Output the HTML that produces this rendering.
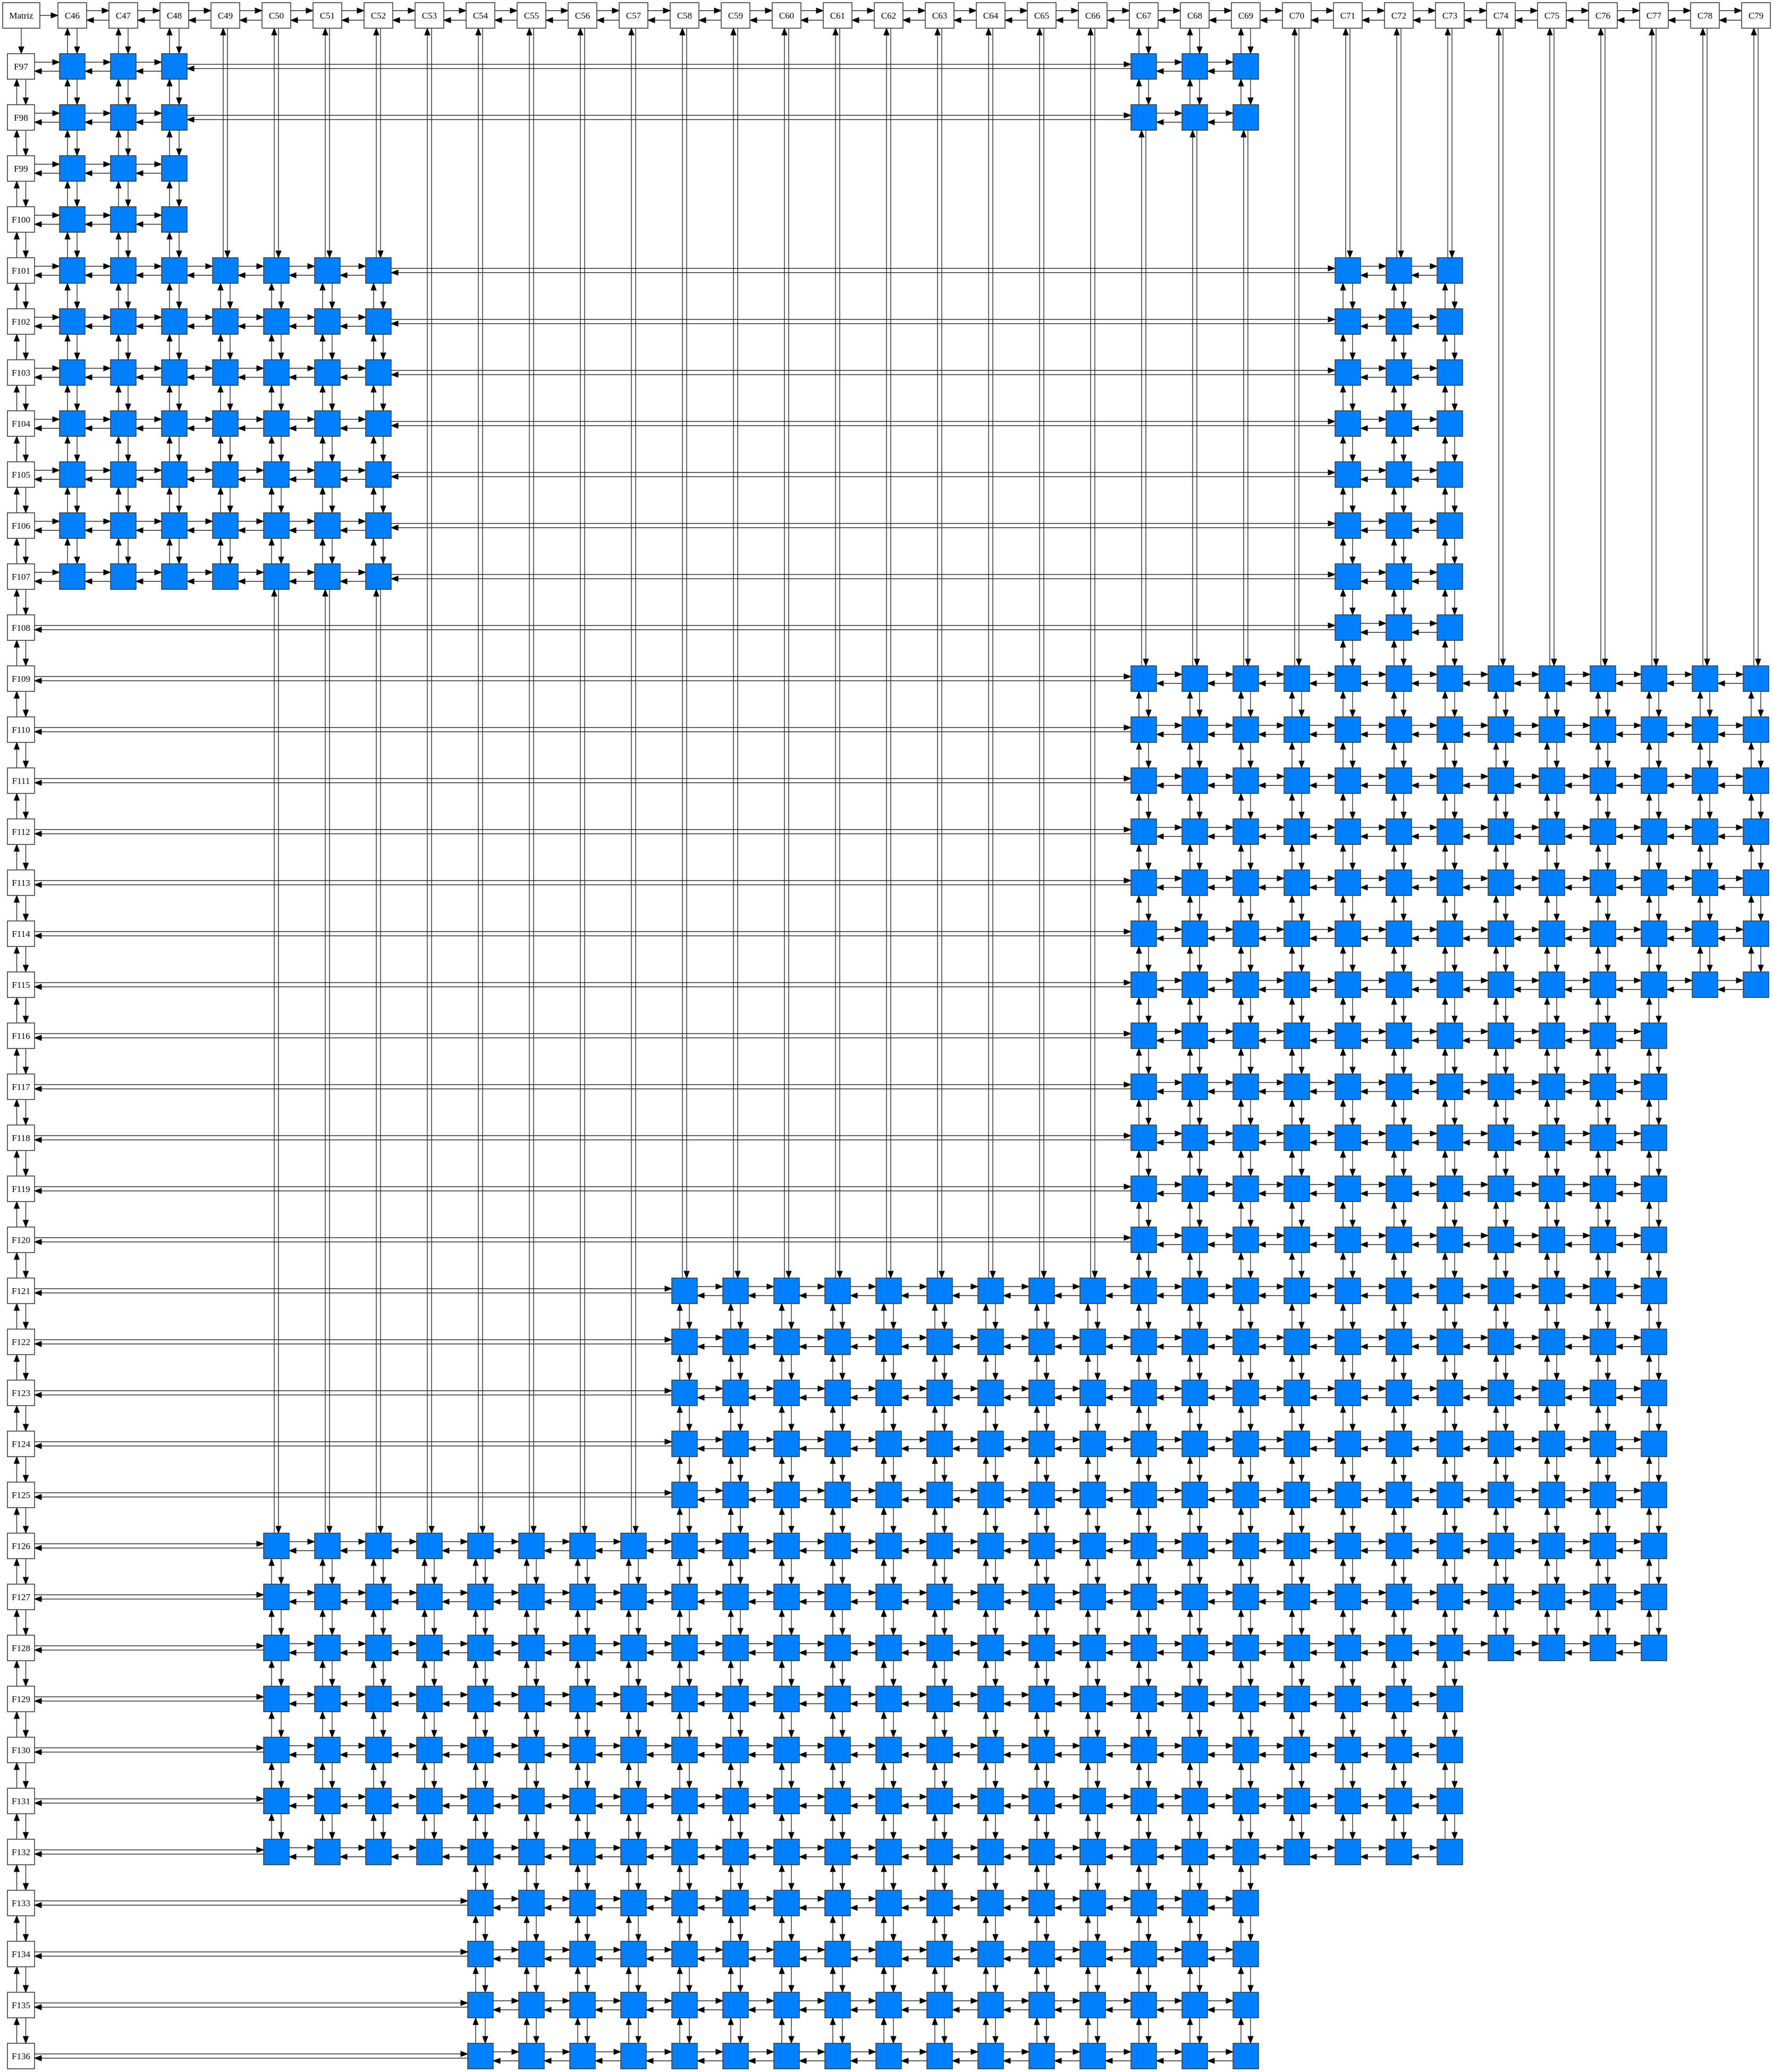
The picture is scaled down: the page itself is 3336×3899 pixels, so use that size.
<!DOCTYPE html>
<html><head><meta charset="utf-8">
<style>
html,body{margin:0;padding:0;background:#fff;}
svg{display:block;}
text{font-family:"Liberation Serif",serif;font-size:17px;fill:#000;}
</style></head>
<body>
<svg id="g" width="3336" height="3899" viewBox="0 0 3336 3899" xmlns="http://www.w3.org/2000/svg"></svg>
<script>
const colLabels = ["C46","C47","C48","C49","C50","C51","C52","C53","C54","C55","C56","C57","C58","C59","C60","C61","C62","C63","C64","C65","C66","C67","C68","C69","C70","C71","C72","C73","C74","C75","C76","C77","C78","C79"];
const rowLabels = ["F97","F98","F99","F100","F101","F102","F103","F104","F105","F106","F107","F108","F109","F110","F111","F112","F113","F114","F115","F116","F117","F118","F119","F120","F121","F122","F123","F124","F125","F126","F127","F128","F129","F130","F131","F132","F133","F134","F135","F136"];
// per-row filled column ranges [firstColIndex, lastColIndex]
const rowRanges = [
 [[0,2],[21,23]],[[0,2],[21,23]],[[0,2]],[[0,2]],
 [[0,6],[25,27]],[[0,6],[25,27]],[[0,6],[25,27]],[[0,6],[25,27]],[[0,6],[25,27]],[[0,6],[25,27]],[[0,6],[25,27]],
 [[25,27]],
 [[21,33]],[[21,33]],[[21,33]],[[21,33]],[[21,33]],[[21,33]],[[21,33]],
 [[21,31]],[[21,31]],[[21,31]],[[21,31]],[[21,31]],
 [[12,31]],[[12,31]],[[12,31]],[[12,31]],[[12,31]],
 [[4,31]],[[4,31]],[[4,31]],
 [[4,27]],[[4,27]],[[4,27]],[[4,27]],
 [[8,23]],[[8,23]],[[8,23]],[[8,23]]
];

const svg = document.getElementById('g');
const NS = 'http://www.w3.org/2000/svg';
const colX = i => 136 + i*96;
const rowY = j => 125 + j*96;
const HEAD_Y = 29;

function mk(tag, attrs){ const e=document.createElementNS(NS,tag); for(const k in attrs) e.setAttribute(k,attrs[k]); svg.appendChild(e); return e; }

function arrow(x1,y1,x2,y2,name){
  const dx=x2-x1, dy=y2-y1, L=Math.hypot(dx,dy), ux=dx/L, uy=dy/L;
  const bx=x2-ux*13, by=y2-uy*13;
  const l=mk('line',{x1:x1,y1:y1,x2:bx,y2:by,stroke:'#2b2b2b','stroke-width':1.4});
  
  
  const p=mk('polygon',{points:`${x2},${y2} ${bx-uy*5},${by+ux*5} ${bx+uy*5},${by-ux*5}`,fill:'#000',stroke:'#000','stroke-width':1});
  
  
}

function box(cx,cy,w,h,fill,label,name){
  const r=mk('rect',{x:cx-w/2,y:cy-h/2,width:w,height:h,fill:fill,stroke:'#333','stroke-width':1.5});
  
  
  if(label){
    const t=mk('text',{x:cx,y:cy+6,'text-anchor':'middle'});
    t.textContent=label;
    
    
  }
}

// cell membership
const filled = rowLabels.map((_,j)=>{ const s=new Set(); rowRanges[j].forEach(([a,b])=>{for(let i=a;i<=b;i++) s.add(i);}); return s; });

// ---- edges ----
// header
arrow(75,HEAD_Y,109,HEAD_Y,'edge-matriz-c46');
arrow(40,53,40,101,'edge-matriz-f97');
for(let i=0;i<colLabels.length-1;i++){
  const a=colX(i)+27, b=colX(i+1)-27;
  arrow(a,HEAD_Y-9,b,HEAD_Y-9,'edge-col-right');
  arrow(b,HEAD_Y+9,a,HEAD_Y+9,'edge-col-left');
}
for(let j=0;j<rowLabels.length-1;j++){
  const a=rowY(j)+24, b=rowY(j+1)-24;
  arrow(48.5,a,48.5,b,'edge-row-down');
  arrow(31.5,b,31.5,a,'edge-row-up');
}
// row links
rowLabels.forEach((lab,j)=>{
  const cols=[...filled[j]].sort((a,b)=>a-b);
  const y=rowY(j);
  let prevRight=65, prevIdx=-1;
  cols.forEach(i=>{
    const left=colX(i)-24;
    const long = (prevIdx<0 ? i>0 : i-prevIdx>1);
    const o1 = long?4:8, o2 = long?4:9;
    arrow(prevRight,y-o1,left,y-o1,'edge-h-right');
    arrow(left,y+o2,prevRight,y+o2,'edge-h-left');
    prevRight=colX(i)+24; prevIdx=i;
  });
});
// column links
colLabels.forEach((lab,i)=>{
  const x=colX(i);
  let prevBottom=53, prevRow=-1;
  rowLabels.forEach((_,j)=>{
    if(!filled[j].has(i)) return;
    const top=rowY(j)-24;
    const long = (prevRow<0 ? j>0 : j-prevRow>1);
    const o = long?4:9;
    arrow(x+o,prevBottom,x+o,top,'edge-v-down');
    arrow(x-o,top,x-o,prevBottom,'edge-v-up');
    prevBottom=rowY(j)+24; prevRow=j;
  });
});

// ---- nodes ----
box(40,HEAD_Y,70,48,'#fff','Matriz','matriz-root-node');
colLabels.forEach((lab,i)=>box(colX(i),HEAD_Y,54,48,'#fff',lab,'column-header-'+lab.toLowerCase()));
rowLabels.forEach((lab,j)=>box(39.5,rowY(j),51,48,'#fff',lab,'row-header-'+lab.toLowerCase()));
rowLabels.forEach((lab,j)=>{
  [...filled[j]].forEach(i=>box(colX(i),rowY(j),48,48,'#007fff','', 'cell-'+lab.toLowerCase()+'-'+colLabels[i].toLowerCase()));
});
</script>
</body></html>
